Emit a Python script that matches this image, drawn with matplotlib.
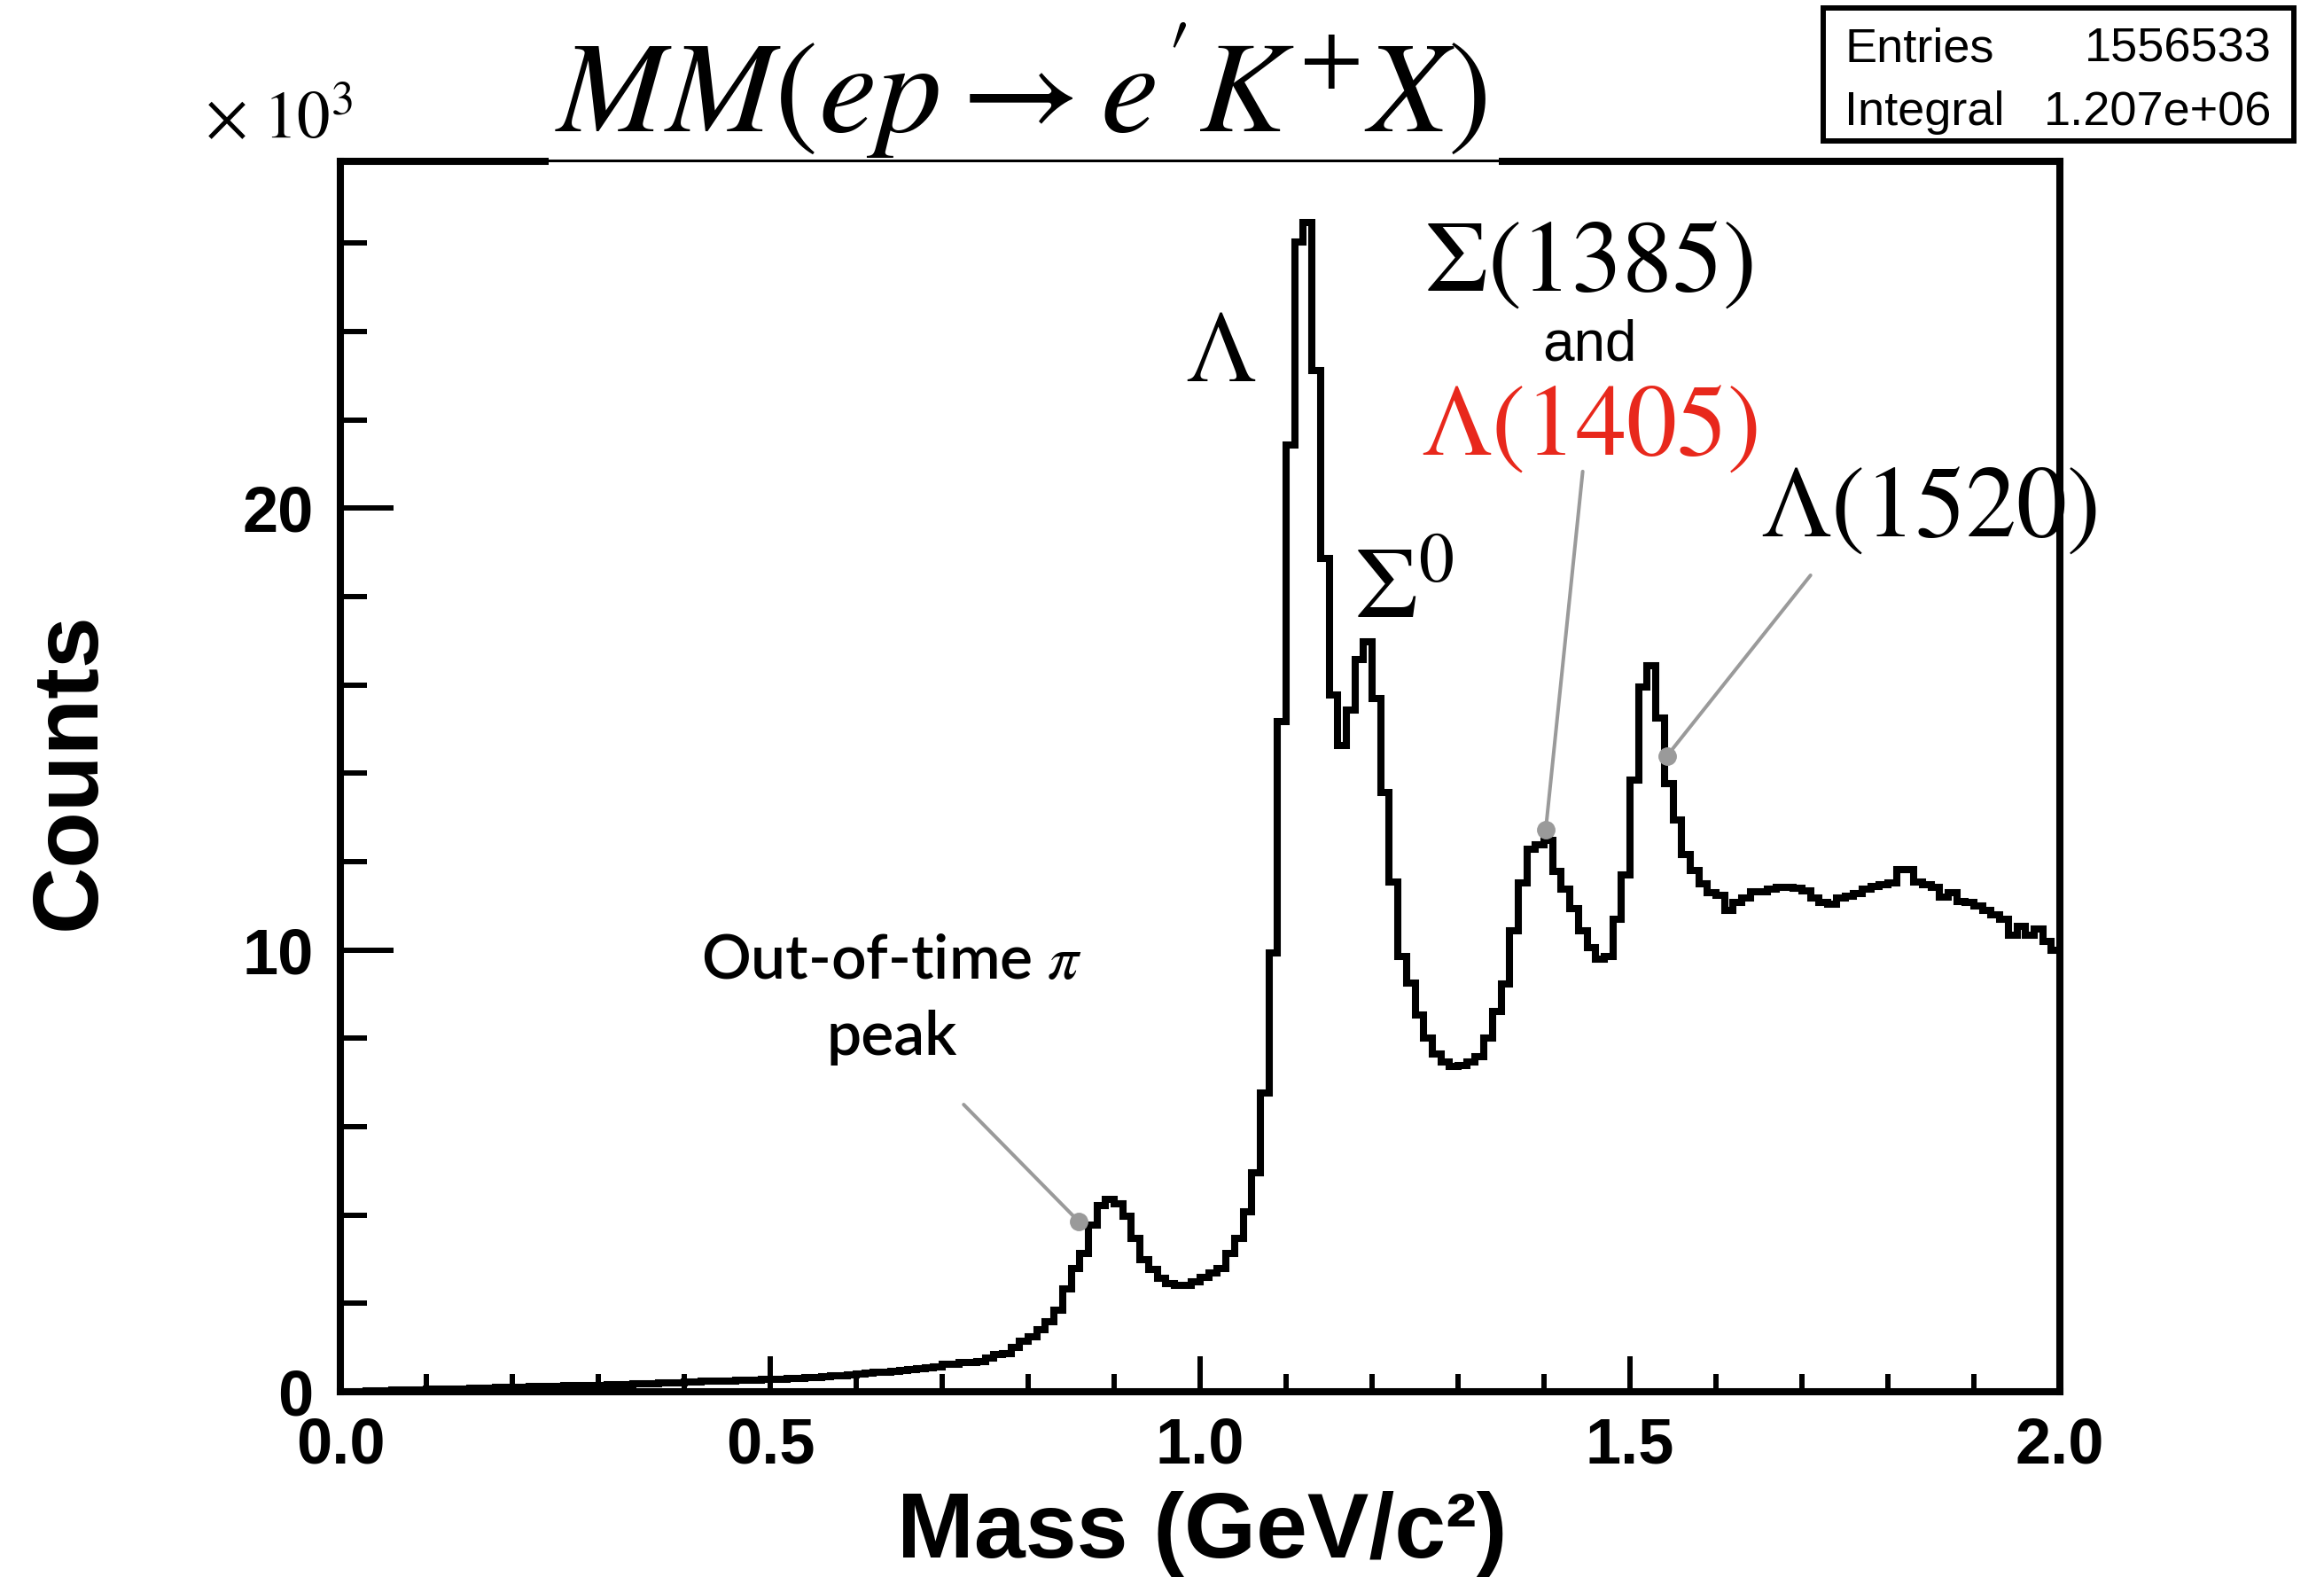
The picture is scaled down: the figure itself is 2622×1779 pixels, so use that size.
import numpy as np
import matplotlib
matplotlib.use("Agg")
import matplotlib.pyplot as plt
from matplotlib.patches import Rectangle
from matplotlib.lines import Line2D

W, H = 2622, 1779

# missing mass of e p -> e' K+ X, 10 MeV bins from 0 to 2 GeV, counts in units of 1e3
mass_edges = np.linspace(0.0, 2.0, 201)
counts = [
    0.00, 0.01, 0.01, 0.02, 0.02, 0.03, 0.04, 0.04, 0.05, 0.05,
    0.06, 0.06, 0.06, 0.07, 0.07, 0.08, 0.09, 0.09, 0.10, 0.10,
    0.11, 0.11, 0.12, 0.12, 0.13, 0.13, 0.14, 0.14, 0.15, 0.15,
    0.15, 0.16, 0.16, 0.17, 0.18, 0.18, 0.19, 0.20, 0.21, 0.21,
    0.22, 0.23, 0.24, 0.24, 0.25, 0.25, 0.26, 0.26, 0.27, 0.28,
    0.28, 0.29, 0.30, 0.31, 0.32, 0.33, 0.35, 0.36, 0.37, 0.38,
    0.40, 0.42, 0.44, 0.45, 0.47, 0.49, 0.51, 0.52, 0.54, 0.57,
    0.62, 0.62, 0.66, 0.66, 0.68, 0.77, 0.85, 0.87, 1.00, 1.15,
    1.25, 1.40, 1.59, 1.84, 2.33, 2.78, 3.14, 3.78, 4.21, 4.35,
    4.25, 3.98, 3.48, 2.98, 2.76, 2.56, 2.45, 2.41, 2.41, 2.48,
    2.58, 2.68, 2.78, 3.14, 3.48, 4.08, 4.95, 6.76, 9.94, 15.16,
    21.43, 26.03, 26.47, 23.11, 18.87, 15.78, 14.63, 15.42, 16.57, 16.98,
    15.69, 13.57, 11.53, 9.85, 9.24, 8.53, 8.00, 7.65, 7.47, 7.36,
    7.38, 7.47, 7.58, 8.01, 8.61, 9.22, 10.44, 11.52, 12.27, 12.38,
    12.48, 11.77, 11.37, 10.94, 10.44, 10.05, 9.80, 9.85, 10.69, 11.70,
    13.85, 15.96, 16.43, 15.24, 13.77, 12.95, 12.16, 11.80, 11.50, 11.30,
    11.23, 10.90, 11.07, 11.17, 11.31, 11.32, 11.37, 11.41, 11.41, 11.39,
    11.34, 11.17, 11.07, 11.04, 11.17, 11.22, 11.27, 11.37, 11.44, 11.47,
    11.52, 11.81, 11.81, 11.54, 11.47, 11.41, 11.20, 11.30, 11.10, 11.07,
    11.00, 10.90, 10.80, 10.70, 10.33, 10.54, 10.33, 10.47, 10.20, 10.00,
]

x_major = [0.0, 0.5, 1.0, 1.5, 2.0]
x_major_labels = ["0.0", "0.5", "1.0", "1.5", "2.0"]
y_major = [0, 10, 20]
y_major_labels = ["0", "10", "20"]

stat_names = ["Entries", "Integral"]
stat_values = ["1556533", "1.207e+06"]

# pointer lines: (label end, point on the spectrum)
pi_ptr = [(0.725, 6.50), (0.859, 3.85)]
l1405_ptr = [(1.445, 20.83), (1.402, 12.72)]
l1520_ptr = [(1.710, 18.48), (1.543, 14.39)]

GREY = "#9a9a9a"
RED = "#e8281c"

plt.rcParams["mathtext.fontset"] = "stix"
plt.rcParams["font.family"] = ["Liberation Sans", "DejaVu Sans"]


def px(x, y):
    # pixel position (from top left) to figure fraction
    return x / W, 1 - y / H


fig = plt.figure(figsize=(W / 100, H / 100), dpi=100)
ax = fig.add_axes([384 / W, 1 - 1570 / H, (2324 - 384) / W, (1570 - 182) / H])

ax.stairs(counts, mass_edges, color="black", lw=5.8, baseline=None, zorder=3)
ax.set_xlim(0, 2)
ax.set_ylim(0, 27.85)

for s in ax.spines.values():
    s.set_linewidth(5.8)

ax.set_xticks(x_major)
ax.set_xticklabels(x_major_labels, fontweight="bold")
ax.set_xticks(np.arange(0, 2.001, 0.1), minor=True)
ax.set_yticks(y_major)
ax.set_yticklabels(y_major_labels, fontweight="bold")
ax.set_yticks(np.arange(0, 28, 2), minor=True)
ax.tick_params(axis="x", which="major", direction="in", length=29, width=4.3, pad=20, labelsize=52)
ax.tick_params(axis="x", which="minor", direction="in", length=14.5, width=4.3)
ax.tick_params(axis="y", which="major", direction="in", length=43, width=4.3, pad=22, labelsize=52)
ax.tick_params(axis="y", which="minor", direction="in", length=21.5, width=4.3)

# peak labels
ax.text(1.024, 22.88, r"$\Lambda$", fontsize=82, ha="center", va="baseline")
ax.text(1.179, 17.52, r"$\Sigma^{0}$", fontsize=82, ha="left", va="baseline")
ax.text(1.4526, 24.93, r"$\Sigma(1385)$", fontsize=82, ha="center", va="baseline")
ax.text(1.4526, 23.34, "and", fontsize=46, ha="center", va="baseline")
ax.text(1.4526, 21.21, r"$\Lambda(1405)$", fontsize=82, ha="center", va="baseline", color=RED)
ax.text(1.847, 19.37, r"$\Lambda(1520)$", fontsize=82, ha="center", va="baseline",
        clip_on=False, zorder=2)
ax.text(0.641, 9.35, r"Out-of-time $\pi$", fontsize=50, ha="center", va="baseline",
        family=["Lato", "DejaVu Sans"], fontweight="semibold")
ax.text(0.641, 7.63, "peak", fontsize=50, ha="center", va="baseline",
        family=["Lato", "DejaVu Sans"], fontweight="semibold")

for ptr in (pi_ptr, l1405_ptr, l1520_ptr):
    (x0, y0), (x1, y1) = ptr
    ax.plot([x0, x1], [y0, y1], color=GREY, lw=2.9, zorder=4, solid_capstyle="round")
    ax.plot([x1], [y1], "o", color=GREY, ms=14, zorder=5)

# axis titles
fig.text(*px(1356, 1757), "Mass (GeV/c²)", fontsize=75, fontweight="bold",
         ha="center", va="baseline")
fig.text(*px(80, 870), "Counts", fontsize=75, fontweight="bold", rotation=90,
         ha="center", va="center")
fig.text(*px(398, 155), r"$\times\ 10^{3}$", fontsize=54, ha="right", va="baseline")

# title on a white patch over the frame
bx0, by0 = px(619, 189)
bx1, by1 = px(1691, 0)
fig.add_artist(Rectangle((bx0, by0), bx1 - bx0, by1 - by0, transform=fig.transFigure,
                         facecolor="white", edgecolor="none", zorder=5))
lx0, ly = px(619, 181)
lx1, _ = px(1691, 181)
fig.add_artist(Line2D([lx0, lx1], [ly, ly], transform=fig.transFigure, color="black",
                      lw=2.2, zorder=6))
fig.text(*px(1152, 148), r"$MM(ep\rightarrow e'K^{+}X)$", fontsize=106,
         ha="center", va="baseline", zorder=7)

# stats box
sx0, sy0 = px(2057, 159)
sx1, sy1 = px(2588, 9)
fig.add_artist(Rectangle((sx0, sy0), sx1 - sx0, sy1 - sy0, transform=fig.transFigure,
                         facecolor="white", edgecolor="black", lw=4.3, zorder=5))
for i, (name, val) in enumerate(zip(stat_names, stat_values)):
    yb = 69 + 72 * i
    fig.text(*px(2081, yb), name, fontsize=39, ha="left", va="baseline", zorder=7)
    fig.text(*px(2563, yb), val, fontsize=39, ha="right", va="baseline", zorder=7)

fig.savefig("out.png", dpi=100, facecolor="white")
